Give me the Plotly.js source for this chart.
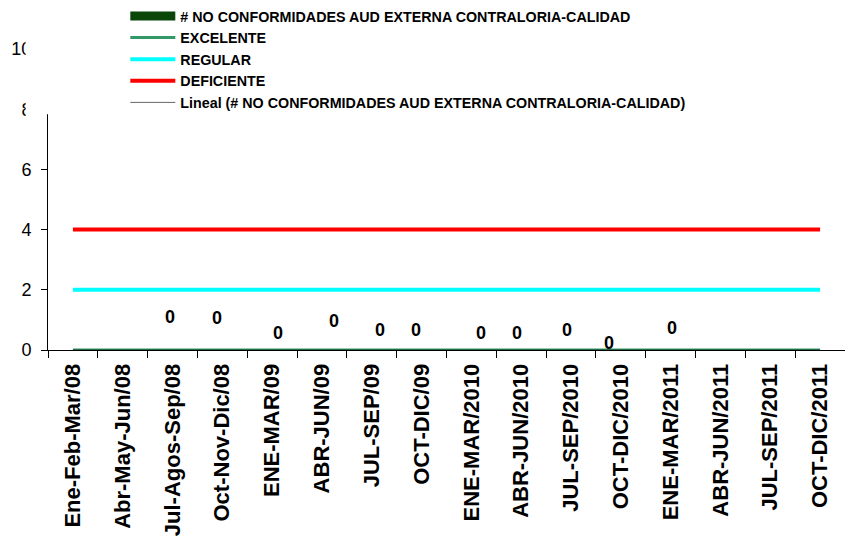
<!DOCTYPE html>
<html>
<head>
<meta charset="utf-8">
<script src="https://cdn.plot.ly/plotly-3.0.1.min.js"></script>
<style>html,body{margin:0;padding:0;background:#fff;}#chart{width:845px;height:540px;}</style>
</head>
<body>
<div id="chart"></div>
<script>
// ---- data ----
const categories = ["Ene-Feb-Mar/08","Abr-May-Jun/08","Jul-Agos-Sep/08","Oct-Nov-Dic/08","ENE-MAR/09","ABR-JUN/09","JUL-SEP/09","OCT-DIC/09","ENE-MAR/2010","ABR-JUN/2010","JUL-SEP/2010","OCT-DIC/2010","ENE-MAR/2011","ABR-JUN/2011","JUL-SEP/2011","OCT-DIC/2011"];
const noConformidades = [null,null,0,0,0,0,0,0,0,0,0,0,0,null,null,null];
const excelente = [0,0,0,0,0,0,0,0,0,0,0,0,0,0,0,0];
const regular = [2,2,2,2,2,2,2,2,2,2,2,2,2,2,2,2];
const deficiente = [4,4,4,4,4,4,4,4,4,4,4,4,4,4,4,4];
const yTicks = [0,2,4,6,8,10];

// label placement offsets (pixels) for the data labels, as in the original
const labelShift = [[0,0],[0,0],[-3,33],[-5,32],[6,17],[12,29],[8,20],[-6,20],[10,17],[-4,17],[-4,20],[-12,7],[1,22],[0,0],[0,0],[0,0]];

// linear trendline (least squares over the available points)
const pts = noConformidades.map((v,i)=>[i+1,v]).filter(p=>p[1]!==null);
const n = pts.length;
const sx = pts.reduce((a,p)=>a+p[0],0), sy = pts.reduce((a,p)=>a+p[1],0);
const sxx = pts.reduce((a,p)=>a+p[0]*p[0],0), sxy = pts.reduce((a,p)=>a+p[0]*p[1],0);
const slope = (n*sxy - sx*sy)/(n*sxx - sx*sx);
const intercept = (sy - slope*sx)/n;
const trend = categories.map((c,i)=>intercept + slope*(i+1));

const FONT = "Liberation Sans, Arial, sans-serif";
const BAR_NAME = '# NO CONFORMIDADES AUD EXTERNA CONTRALORIA-CALIDAD';

const traces = [
  {type:'bar', x:categories, y:noConformidades, name:BAR_NAME, legendgroup:'bar', showlegend:false,
   marker:{color:'#006600', line:{color:'#000', width:1.5}}, hoverinfo:'skip'},
  // legend entry for the bar series (wide box swatch as in the original)
  {type:'scatter', mode:'lines', x:[categories[0]], y:[null], name:BAR_NAME, legendgroup:'bar',
   line:{color:'#0a460a', width:9}, legendrank:1},
  {type:'scatter', mode:'lines', x:categories, y:excelente, name:'EXCELENTE',
   line:{color:'#339966', width:3}, legendrank:2, cliponaxis:false},
  {type:'scatter', mode:'lines', x:categories, y:trend, name:'Lineal (# NO CONFORMIDADES AUD EXTERNA CONTRALORIA-CALIDAD)',
   line:{color:'#000', width:1}, legendrank:5, cliponaxis:false, opacity:0.6},
  {type:'scatter', mode:'lines', x:categories, y:regular, name:'REGULAR',
   line:{color:'#00FFFF', width:4}, legendrank:3, cliponaxis:false},
  {type:'scatter', mode:'lines', x:categories, y:deficiente, name:'DEFICIENTE',
   line:{color:'#FF0000', width:4}, legendrank:4, cliponaxis:false}
];

const annotations = [];
noConformidades.forEach((v,i)=>{
  if (v===null) return;
  annotations.push({x:categories[i], y:v, xref:'x', yref:'y', text:String(v), showarrow:false,
    xshift:labelShift[i][0], yshift:labelShift[i][1],
    font:{family:FONT, size:18, color:'#000', weight:700}});
});

const layout = {
  width:845, height:540,
  margin:{l:48, r:0, t:47, b:190},
  paper_bgcolor:'#fff', plot_bgcolor:'#fff',
  showlegend:true,
  legend:{x:0.097, y:1.162, xanchor:'left', yanchor:'top', bgcolor:'rgba(0,0,0,0)',
    traceorder:'normal', itemwidth:45, font:{family:FONT, size:14.3, color:'#000', weight:700}},
  xaxis:{type:'category', tickson:'boundaries', ticks:'outside', ticklen:7, tickcolor:'#000',
    showline:true, linecolor:'#000', linewidth:1, showgrid:false, zeroline:false,
    tickangle:-90, ticklabelstandoff:4, tickfont:{family:FONT, size:22, color:'#000', weight:700}},
  yaxis:{range:[0,10], tickvals:yTicks, ticks:'outside', ticklen:6, tickcolor:'#000',
    showline:true, linecolor:'#000', linewidth:1, showgrid:false, zeroline:false,
    ticklabelstandoff:6, tickfont:{family:FONT, size:18, color:'#000'}},
  shapes:[
    {type:'rect', xref:'paper', yref:'paper', x0:-0.028, x1:0.87, y0:0.783, y1:1.16,
      fillcolor:'#fff', line:{width:0}, layer:'above'},
    {type:'rect', xref:'paper', yref:'paper', x0:-0.028, x1:-0.008, y0:0.77, y1:0.79,
      fillcolor:'#fff', line:{width:0}, layer:'above'}
  ],
  annotations:annotations
};

Plotly.newPlot('chart', traces, layout, {displayModeBar:false, staticPlot:true});
</script>
</body>
</html>
